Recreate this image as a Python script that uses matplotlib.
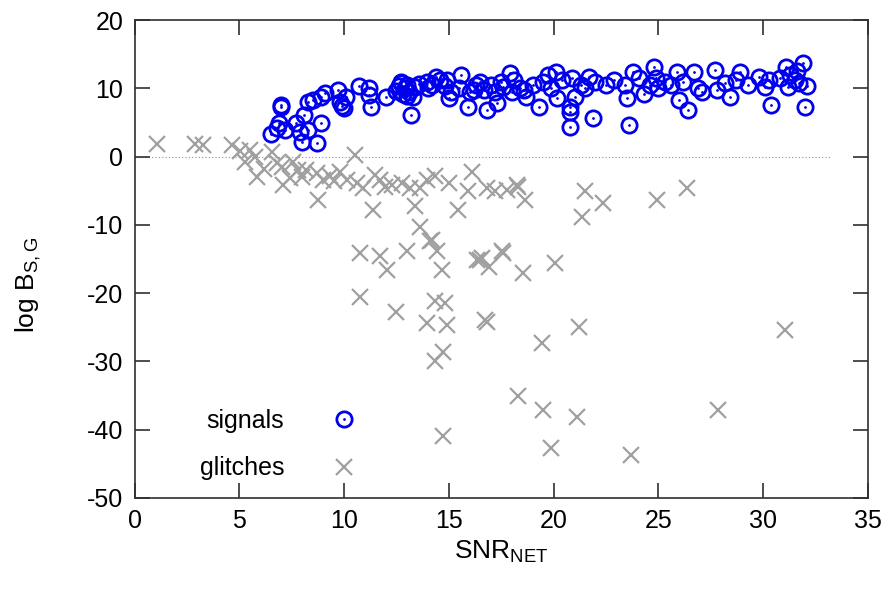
import matplotlib
matplotlib.use("Agg")
import matplotlib.pyplot as plt

plt.rcParams['font.family'] = ['Liberation Sans', 'DejaVu Sans']
plt.rcParams['mathtext.fontset'] = 'custom'
plt.rcParams['mathtext.rm'] = 'Liberation Sans'
plt.rcParams['axes.unicode_minus'] = False

# signals (SNR_NET, log B_SG)
sig_x = [6.5, 6.8, 6.9, 7.0, 7.2, 7.0, 7.7, 7.9, 8.1, 8.3, 8.0, 8.7, 8.9, 8.3, 8.5, 8.9, 9.1, 9.7, 9.8, 10.0,
         10.1, 9.9, 10.7, 11.2, 11.2, 11.3, 12.0, 12.5, 12.6, 12.7, 12.8, 12.9, 12.7, 13.0, 13.1, 13.2, 13.3, 13.4, 13.0,
         13.6, 13.95, 14.2, 14.4, 14.6, 14.8, 15.0, 15.1, 15.6, 15.9, 15.5, 16.0, 16.3, 16.5, 16.8, 16.7, 17.0, 17.3,
         17.2, 17.5, 17.6, 17.9, 18.0, 18.1, 18.4, 18.7, 19.0, 19.3, 19.5, 19.75, 20.1, 20.15, 19.9, 20.4, 20.8, 20.8,
         20.8, 20.9, 21.0, 21.3, 21.7, 21.9, 21.5, 22.0, 22.5, 23.4, 23.5, 23.6, 23.8, 24.1, 24.3, 24.6, 24.8, 25.0,
         25.3, 25.6, 25.9, 26.0, 26.4, 26.2, 26.7, 26.9, 27.1, 27.7, 27.8, 28.2, 28.4, 28.9, 28.7, 29.3, 29.8, 30.1,
         30.3, 30.4, 30.8, 31.1, 31.3, 31.5, 31.7, 31.9, 32.0, 32.1, 31.6, 31.2, 14.0, 14.9, 16.2, 18.6, 22.9, 24.9]
sig_y = [3.3, 4.2, 4.9, 7.6, 3.9, 7.3, 4.9, 3.6, 6.1, 3.9, 2.2, 2.0, 4.9, 8.0, 8.3, 8.8, 9.3, 9.8, 8.0, 7.1,
         8.8, 7.4, 10.3, 10.0, 9.0, 7.3, 8.8, 9.6, 10.3, 10.8, 9.2, 10.0, 11.0, 10.5, 9.5, 6.1, 8.8, 10.2, 8.9,
         10.7, 11.0, 10.5, 11.7, 11.2, 10.3, 8.6, 9.4, 12.0, 7.3, 10.0, 9.5, 10.5, 11.0, 6.8, 9.8, 10.5, 7.8,
         9.5, 11.0, 10.2, 12.2, 9.5, 11.2, 10.0, 8.8, 10.5, 7.3, 11.0, 12.0, 12.4, 8.6, 10.0, 11.2, 7.3, 6.6,
         4.4, 11.5, 8.8, 10.5, 11.7, 5.6, 10.0, 11.0, 10.5, 10.5, 8.6, 4.6, 12.4, 11.5, 9.2, 10.5, 13.2, 10.0,
         11.0, 10.5, 12.4, 8.3, 6.8, 11.0, 12.4, 10.0, 9.5, 12.7, 9.8, 10.8, 8.8, 12.4, 11.2, 10.5, 11.7, 10.2,
         11.2, 7.6, 11.5, 13.2, 12.0, 11.2, 10.8, 13.7, 7.3, 10.3, 12.5, 10.2, 10.0, 11.3, 9.8, 9.8, 11.2, 11.5]

# glitches (SNR_NET, log B_SG)
gl_x = [1.06, 2.89, 3.27, 4.64, 5.04, 5.51, 5.27, 5.75, 5.83, 6.55, 6.79, 7.03, 7.1, 7.58, 7.8, 7.98, 8.7, 8.77,
        9.0, 10.52, 9.33, 9.8, 10.13, 10.6, 10.92, 11.48, 11.72, 11.96, 11.4, 12.75, 13.15, 13.63, 13.95, 14.34,
        13.39, 13.63, 16.1, 15.93, 15.46, 16.8, 17.2, 17.77, 18.24, 18.3, 18.64, 21.5, 21.35, 22.38, 24.93, 26.36,
        17.6, 16.9, 16.5, 18.56, 20.07, 16.8, 19.44, 21.2, 31.05, 18.3, 19.5, 21.1, 27.87, 19.9, 23.7,
        14.19, 14.42, 14.66, 10.76, 11.72, 12.04, 12.99, 16.33, 17.53, 10.76, 12.5, 14.34, 14.82, 13.95, 14.9,
        16.73, 14.74, 14.34, 14.74, 14.1, 16.57, 6.2, 7.4, 8.2, 9.5, 12.3, 15.0]
gl_y = [1.86, 1.86, 1.71, 1.71, 0.88, 0.98, -0.73, 0.0, -2.93, 0.73, -0.92, -1.46, -4.1, -0.73, -1.95, -2.93,
        -2.43, -6.34, -3.4, 0.25, -2.9, -2.2, -3.4, -3.9, -4.6, -2.7, -3.4, -4.4, -7.8, -3.9, -4.6, -4.6, -3.4,
        -2.9, -7.3, -10.25, -2.2, -5.1, -7.8, -4.6, -5.1, -4.9, -4.1, -4.4, -6.3, -5.1, -8.8, -6.8, -6.3, -4.6,
        -14.1, -16.1, -15.1, -17.1, -15.6, -24.2, -27.3, -24.9, -25.4, -35.1, -37.1, -38.1, -37.1, -42.7, -43.7,
        -12.2, -13.9, -16.6, -14.1, -14.6, -16.6, -13.9, -15.1, -13.9, -20.5, -22.7, -21.2, -21.5, -24.4, -24.6,
        -23.9, -28.6, -30.0, -41.0, -12.4, -14.9, -1.8, -3.2, -2.0, -3.6, -4.2, -3.8]

xticks = [0, 5, 10, 15, 20, 25, 30, 35]
yticks = [20, 10, 0, -10, -20, -30, -40, -50]

fig = plt.figure(figsize=(8.91, 5.92), dpi=100)
ax = fig.add_axes([0.151, 0.159, 0.823, 0.807])

blue = '#0000ee'
grey = '#a0a0a0'

ax.plot([0, 33.2], [0, 0], linestyle=(0, (1, 2)), color='#909090', lw=0.8, zorder=1)

ax.plot(gl_x, gl_y, linestyle='none', marker='x', ms=12, mew=1.6, color=grey, zorder=2)
ax.plot(sig_x, sig_y, linestyle='none', marker='o', ms=11, mew=2.0, mfc='none', mec=blue, zorder=3)
ax.plot(sig_x, sig_y, linestyle='none', marker='o', ms=2.0, mew=0, color=blue, zorder=4)

# legend
h_sig, = ax.plot([], [], linestyle='none', marker='o', ms=11, mew=2.0, mfc='none', mec=blue)
h_sigdot, = ax.plot([], [], linestyle='none', marker='o', ms=2.0, mew=0, color=blue)
h_gl, = ax.plot([], [], linestyle='none', marker='x', ms=12, mew=1.6, color=grey)
leg = ax.legend([(h_sig, h_sigdot), h_gl], ['signals', 'glitches'], loc='lower left',
                bbox_to_anchor=(0.065, 0.0), frameon=False, markerfirst=False, fontsize=18,
                handletextpad=1.4, labelspacing=0.95, borderaxespad=0.3)

ax.set_xlim(0, 35)
ax.set_ylim(-50, 20)
ax.set_xticks(xticks)
ax.set_yticks(yticks)
ax.tick_params(direction='in', length=11, width=1.2, labelsize=18, color='#303030',
               top=True, right=True, pad=8)
for s in ax.spines.values():
    s.set_color('#303030')
    s.set_linewidth(1.2)

ax.set_xlabel(r'SNR$_{\mathrm{NET}}$', fontsize=19, labelpad=4)
ax.set_ylabel(r'log B$_{\mathrm{S,G}}$', fontsize=19)
ax.yaxis.set_label_coords(-0.125, 0.445)

fig.savefig('out.png', dpi=100)
